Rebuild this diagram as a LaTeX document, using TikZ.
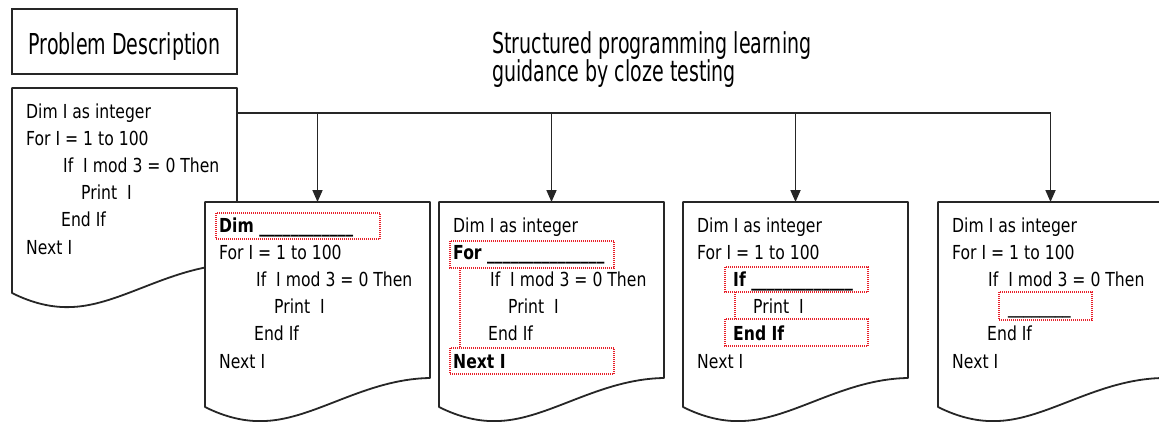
\documentclass[tikz,border=0pt]{standalone}
\usepackage{fontspec}
\newfontfamily\codefont{DejaVu Sans}[FakeStretch=0.81]
\newfontfamily\headfont{DejaVu Sans}[FakeStretch=0.66]
\usetikzlibrary{arrows.meta}
\definecolor{inkgray}{HTML}{262626}
\definecolor{clozered}{HTML}{E8202A}
\newcommand{\blanks}[1]{\foreach \k in {1,...,#1}{\_}}
\tikzset{
  docline/.style={draw=inkgray, line width=1.8pt, line join=round},
  busline/.style={draw=inkgray, line width=1.7pt},
  droparrow/.style={busline, -{Triangle[width=10pt,length=12pt]}},
  codeline/.style={anchor=base west, inner sep=0pt, font=\codefont\fontsize{19.3}{23}\selectfont},
  headline/.style={anchor=base west, inner sep=0pt, font=\headfont\fontsize{28.8}{30}\selectfont},
  blankbox/.style={draw=clozered, line width=1.3pt, dash pattern=on 1pt off 1pt},
  pics/document/.style={code={
     \draw[docline, fill=white] (0,0) -- (225,0) -- (225,-176)
        .. controls (160,-177) and (110,-217) .. (60,-219)
        .. controls (40,-220) and (20,-215) .. (0,-205) -- cycle;
     \coordinate (-top) at (112.5,0);
     \coordinate (-bus) at (225,-25);
  }},
}
\begin{document}
\begin{tikzpicture}[x=1pt,y=1pt]
\useasboundingbox (0,0) rectangle (1159,-421);
\fill[white] (0,0) rectangle (1159,-421);

% heading box
\node[draw=inkgray, line width=1.8pt, minimum width=225pt, minimum height=65pt,
      text height=25pt, text depth=0pt, inner sep=0pt,
      font=\headfont\fontsize{28.8}{30}\selectfont] (problem) at (124.5,-41.5) {Problem Description};

% caption of the exercise series
\node[headline] (title1) at (492,-53) {Structured programming learning};
\node[headline] (title2) at (492,-81) {guidance by cloze testing};

% the complete program
\begin{scope}[shift={(12,-88)}]
  \pic (doc0) at (0,0) {document};
  \node[codeline] (p0l0) at (14,-30.5) {Dim I as integer};
  \node[codeline] (p0l1) at (14,-57.6) {For I = 1 to 100};
  \node[codeline] (p0l2) at (51,-84.7) {If\ \ I mod 3 = 0 Then};
  \node[codeline] (p0l3) at (69,-111.8) {Print\ \ I};
  \node[codeline] (p0l4) at (49,-138.9) {End If};
  \node[codeline] (p0l5) at (14,-166) {Next I};
\end{scope}

% distribution bus
\coordinate (drop1) at (317.5,-113);
\coordinate (drop2) at (551.5,-113);
\coordinate (drop3) at (795.5,-113);
\coordinate (drop4) at (1050.5,-113);
\draw[busline] (doc0-bus) -- (drop4);

% exercise 1: declaration blank
\begin{scope}[shift={(205,-202)}]
  \pic (doc1) at (0,0) {document};
  \draw[blankbox] (11,-11) rectangle (175,-37);
  \node[codeline] (c1l0) at (14,-30.5) {\bfseries Dim \blanks{12}};
  \node[codeline] (c1l1) at (14,-57.6) {For I = 1 to 100};
  \node[codeline] (c1l2) at (51,-84.7) {If\ \ I mod 3 = 0 Then};
  \node[codeline] (c1l3) at (69,-111.8) {Print\ \ I};
  \node[codeline] (c1l4) at (49,-138.9) {End If};
  \node[codeline] (c1l5) at (14,-166) {Next I};
\end{scope}

% exercise 2: loop blank
\begin{scope}[shift={(439,-202)}]
  \pic (doc2) at (0,0) {document};
  \draw[blankbox] (11,-39) rectangle (175,-66);
  \draw[blankbox] (21,-66) -- (21,-146);
  \draw[blankbox] (11,-146) rectangle (175,-172);
  \node[codeline] (c2l0) at (14,-30.5) {Dim I as integer};
  \node[codeline] (c2l1) at (14,-57.6) {\bfseries For \blanks{15}};
  \node[codeline] (c2l2) at (51,-84.7) {If\ \ I mod 3 = 0 Then};
  \node[codeline] (c2l3) at (69,-111.8) {Print\ \ I};
  \node[codeline] (c2l4) at (49,-138.9) {End If};
  \node[codeline] (c2l5) at (14,-166) {\bfseries Next I};
\end{scope}

% exercise 3: condition blank
\begin{scope}[shift={(683,-202)}]
  \pic (doc3) at (0,0) {document};
  \draw[blankbox] (42,-65) rectangle (185,-90);
  \draw[blankbox] (52,-90) -- (52,-117);
  \draw[blankbox] (42,-117) rectangle (185,-144);
  \node[codeline] (c3l0) at (14,-30.5) {Dim I as integer};
  \node[codeline] (c3l1) at (14,-57.6) {For I = 1 to 100};
  \node[codeline] (c3l2) at (50,-84.7) {\bfseries If \blanks{13}};
  \node[codeline] (c3l3) at (70,-111.8) {Print\ \ I};
  \node[codeline] (c3l4) at (50,-138.9) {\bfseries End If};
  \node[codeline] (c3l5) at (14,-166) {Next I};
\end{scope}

% exercise 4: statement blank
\begin{scope}[shift={(938,-202)}]
  \pic (doc4) at (0,0) {document};
  \draw[blankbox] (61,-90) rectangle (154,-118);
  \node[codeline] (c4l0) at (14,-30.5) {Dim I as integer};
  \node[codeline] (c4l1) at (14,-57.6) {For I = 1 to 100};
  \node[codeline] (c4l2) at (50,-84.7) {If\ \ I mod 3 = 0 Then};
  \node[codeline] (c4l3) at (70,-111.8) {\blanks{8}};
  \node[codeline] (c4l4) at (49,-138.9) {End If};
  \node[codeline] (c4l5) at (14,-166) {Next I};
\end{scope}

% drops from the bus to each exercise
\foreach \i in {1,2,3,4}
  \draw[droparrow] (drop\i) -- (doc\i-top);
\end{tikzpicture}
\end{document}
